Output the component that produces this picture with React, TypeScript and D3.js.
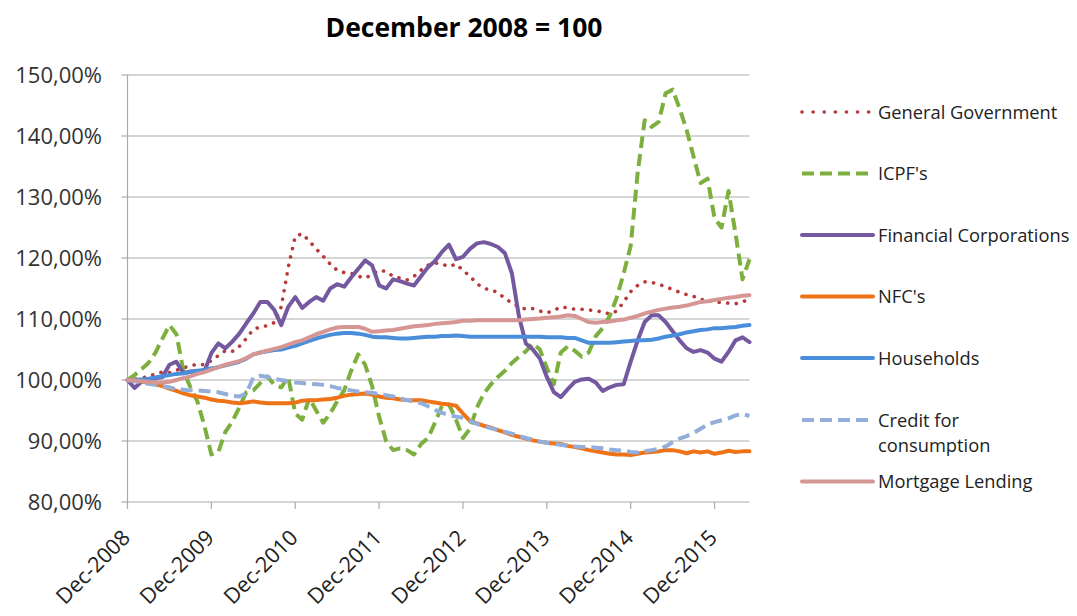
import React from "react";
import * as d3 from "d3";

// Categories: monthly, Dec-2008 .. May-2016
const months: Date[] = d3.timeMonth.range(new Date(2008, 11, 1), new Date(2016, 5, 1));
const xTickLabels = ["Dec-2008", "Dec-2009", "Dec-2010", "Dec-2011", "Dec-2012", "Dec-2013", "Dec-2014", "Dec-2015"];
const yTicks = [80, 90, 100, 110, 120, 130, 140, 150];

const generalGovernment = [
  100, 100.1, 100.3, 100.6, 101.0, 101.3, 101.2, 101.6, 102.0, 102.3, 102.6, 102.5, 103.2, 104.0, 104.8, 104.7, 105.5, 106.8, 108.3, 108.7, 108.9, 109.4, 112.0, 118.5, 123.5,
  124.0, 122.8, 121.5, 120.3, 119.0, 118.0, 117.6, 117.5, 117.0, 116.7, 117.3, 118.0, 117.8, 117.0, 116.7, 116.4, 117.0, 118.0, 118.8, 119.2, 119.0, 118.6, 119.0, 118.0,
  117.0, 115.8, 115.0, 114.8, 114.3, 113.4, 112.6, 112.0, 111.6, 111.7, 111.3, 111.0, 111.4, 112.0, 111.8, 111.6, 111.6, 111.5, 111.3, 111.2, 110.8, 111.3,
  112.8, 114.5, 115.5, 116.1, 116.0, 115.7, 115.3, 114.8, 114.4, 114.0, 113.7, 113.2, 113.1, 112.8, 112.7, 112.6, 112.5, 112.8, 113.3,
];
const icpf = [
  100, 100.8, 101.8, 102.8, 104.5, 106.8, 109.0, 107.5, 101.5, 98.8, 96.5, 92.5, 87.8, 88.2, 91.5, 93.2, 95.5, 98.0, 98.3, 99.5, 100.6, 99.2, 98.8, 100.5, 94.5,
  93.5, 97.0, 95.0, 93.0, 94.5, 96.5, 98.3, 101.5, 104.2, 102.5, 99.0, 94.0, 90.0, 88.5, 88.8, 88.5, 87.8, 89.5, 90.5, 93.0, 95.8, 96.0, 93.5, 90.5,
  92.0, 95.5, 97.8, 99.3, 100.5, 101.5, 102.8, 103.8, 104.7, 106.0, 105.0, 102.0, 99.3, 104.5, 105.5, 104.8, 103.8, 104.5, 107.2, 108.5, 110.5, 113.5,
  117.5, 122.0, 134.0, 142.6, 141.5, 142.3, 147.0, 147.6, 144.5, 141.0, 136.6, 132.3, 133.0, 126.5, 125.0, 131.0, 124.0, 116.5, 119.8,
];
const financialCorporations = [
  100, 98.7, 99.7, 100, 100.3, 100.5, 102.5, 103.0, 101.1, 101.4, 101.5, 101.4, 104.4, 106.0, 105.2, 106.3, 107.6, 109.3, 110.9, 112.8, 112.8, 111.5, 109.0, 112.0, 113.6,
  111.8, 112.8, 113.6, 113.0, 115.0, 115.7, 115.3, 116.8, 118.2, 119.6, 118.8, 115.5, 115.0, 116.5, 116.2, 115.8, 115.5, 117.0, 118.5, 119.5, 121.0, 122.2, 119.8, 120.2,
  121.5, 122.4, 122.6, 122.3, 121.8, 120.8, 117.5, 110.5, 106.0, 105.0, 103.5, 100.5, 98.0, 97.2, 98.5, 99.7, 100.1, 100.2, 99.6, 98.2, 98.8, 99.2,
  99.3, 103.0, 106.5, 109.5, 110.6, 110.6, 109.5, 108.0, 106.5, 105.2, 104.6, 104.9, 104.5, 103.5, 103.0, 104.6, 106.5, 107.0, 106.2,
];
const nfcs = [
  100, 99.9, 99.8, 99.6, 99.3, 99.0, 98.6, 98.2, 97.8, 97.5, 97.3, 97.1, 96.8, 96.6, 96.5, 96.3, 96.2, 96.3, 96.5, 96.3, 96.2, 96.2, 96.2, 96.2, 96.3,
  96.6, 96.7, 96.7, 96.8, 96.9, 97.1, 97.4, 97.6, 97.7, 97.8, 97.6, 97.3, 97.1, 97.0, 96.8, 96.7, 96.7, 96.7, 96.5, 96.3, 96.1, 96.0, 95.8, 94.5,
  93.3, 92.9, 92.5, 92.2, 91.8, 91.4, 91.0, 90.7, 90.4, 90.1, 89.9, 89.7, 89.6, 89.5, 89.2, 89.0, 88.8, 88.5, 88.3, 88.1, 87.9, 87.8,
  87.8, 87.7, 87.9, 88.1, 88.2, 88.3, 88.5, 88.5, 88.3, 88.0, 88.3, 88.1, 88.3, 87.9, 88.1, 88.4, 88.2, 88.3, 88.3,
];
const households = [
  100, 100, 100.1, 100.2, 100.4, 100.6, 100.8, 101.0, 101.1, 101.3, 101.5, 101.7, 101.9, 102.1, 102.4, 102.7, 103.0, 103.5, 104.2, 104.5, 104.7, 104.9, 105.0, 105.3, 105.6,
  106.0, 106.4, 106.8, 107.1, 107.4, 107.6, 107.7, 107.7, 107.6, 107.4, 107.1, 107.0, 107.0, 106.9, 106.8, 106.8, 106.9, 107.0, 107.1, 107.1, 107.2, 107.2, 107.3, 107.2,
  107.1, 107.1, 107.1, 107.1, 107.1, 107.1, 107.1, 107.1, 107.1, 107.1, 107.1, 107.0, 107.0, 107.0, 106.9, 106.9, 106.5, 106.1, 106.1, 106.1, 106.1, 106.2,
  106.3, 106.4, 106.5, 106.5, 106.6, 106.8, 107.1, 107.3, 107.5, 107.8, 108.0, 108.2, 108.3, 108.5, 108.5, 108.6, 108.7, 108.9, 109.0,
];
const creditForConsumption = [
  100, 99.8, 99.6, 99.4, 99.2, 99.0, 98.8, 98.5, 98.4, 98.3, 98.3, 98.2, 98.1, 98.0, 97.7, 97.4, 97.3, 97.8, 100.4, 100.7, 100.5, 100.2, 100.0, 99.8, 99.6,
  99.5, 99.4, 99.3, 99.2, 99.0, 98.7, 98.5, 98.3, 98.1, 98.0, 97.9, 97.7, 97.5, 97.3, 97.0, 96.7, 96.5, 96.2, 95.7, 95.1, 94.6, 94.3, 94.0, 93.8,
  93.3, 92.8, 92.4, 92.1, 91.8, 91.5, 91.2, 90.8, 90.5, 90.2, 89.9, 89.7, 89.5, 89.4, 89.2, 89.1, 89.0, 89.0, 88.9, 88.8, 88.6, 88.5,
  88.4, 88.2, 88.1, 88.3, 88.5, 88.7, 89.1, 89.8, 90.4, 90.8, 91.3, 92.0, 92.7, 93.1, 93.4, 93.7, 94.2, 94.4, 94.1,
];
const mortgageLending = [
  100, 99.9, 99.8, 99.7, 99.6, 99.6, 99.7, 100.0, 100.3, 100.6, 101.0, 101.3, 101.7, 102.1, 102.5, 102.8, 103.1, 103.6, 104.2, 104.5, 104.8, 105.1, 105.4, 105.8, 106.2,
  106.5, 107.0, 107.5, 107.9, 108.3, 108.6, 108.7, 108.7, 108.7, 108.4, 107.9, 108.0, 108.1, 108.2, 108.4, 108.6, 108.8, 108.9, 109.0, 109.2, 109.3, 109.4, 109.5, 109.7,
  109.7, 109.8, 109.8, 109.8, 109.8, 109.8, 109.8, 109.8, 109.9, 110.0, 110.1, 110.2, 110.3, 110.4, 110.6, 110.5, 110.0, 109.5, 109.4, 109.5, 109.6, 109.8,
  109.9, 110.2, 110.5, 110.9, 111.2, 111.5, 111.7, 111.9, 112.0, 112.2, 112.5, 112.8, 112.9, 113.1, 113.3, 113.5, 113.6, 113.8, 113.9,
];

const seriesNames = ["General Government", "ICPF's", "Financial Corporations", "NFC's", "Households", "Credit for consumption", "Mortgage Lending"];
const seriesValues = [generalGovernment, icpf, financialCorporations, nfcs, households, creditForConsumption, mortgageLending];
const seriesColors = ["#B8393A", "#7DAF3E", "#7458A0", "#EE7316", "#4A8EDB", "#93AEDA", "#D69693"];
const seriesDash = ["0.1 8.5", "12 6", null, null, null, "12 6", null];
const seriesWidth = [3.6, 4, 4, 4, 4, 4, 4];
const seriesCap = ["round", "butt", "round", "round", "round", "butt", "round"];

const W = 1077;
const H = 616;
const X0 = 127.5;
const X1 = 749.5;
const Y0 = 502;
const Y1 = 75;
const FONT = "'Open Sans', 'Noto Sans', sans-serif";

export default function App() {
  const x = d3.scaleLinear().domain([0, months.length - 1]).range([X0, X1]);
  const y = d3.scaleLinear().domain([80, 150]).range([Y0, Y1]);
  const line = d3
    .line<number>()
    .x((_, i) => x(i))
    .y((d) => y(d))
    .curve(d3.curveLinear);
  const tickIdx = months.map((m, i) => (m.getMonth() === 11 ? i : -1)).filter((i) => i >= 0);
  const fmt = (v: number) => v.toFixed(2).replace(".", ",") + "%";
  const grid = "#ABABAB";

  const legendY = [112, 173.5, 235, 296.5, 358, 420, 481.5];

  return (
    <svg width={W} height={H} style={{ position: "absolute", left: 0, top: 0, background: "#fff" }} fontFamily={FONT}>
      <text x={464} y={37} textAnchor="middle" fontSize={26.5} fontWeight="bold" fill="#000">
        December 2008 = 100
      </text>
      {yTicks.map((t) => (
        <g key={t}>
          <line x1={X0} x2={X1} y1={y(t)} y2={y(t)} stroke={grid} strokeWidth={1.2} />
          <line x1={X0 - 6} x2={X0} y1={y(t)} y2={y(t)} stroke={grid} strokeWidth={1.2} />
          <text x={102} y={y(t) + 8} textAnchor="end" fontSize={22} fill="#333">
            {fmt(t)}
          </text>
        </g>
      ))}
      <line x1={X0} x2={X0} y1={Y1} y2={Y0} stroke={grid} strokeWidth={1.2} />
      {tickIdx.map((i, k) => (
        <g key={i}>
          <line x1={x(i)} x2={x(i)} y1={Y0} y2={Y0 + 7} stroke={grid} strokeWidth={1.2} />
          <text
            transform={`translate(${x(i) + 4},${539}) rotate(-45)`}
            textAnchor="end"
            fontSize={21.5}
            fill="#222"
          >
            {xTickLabels[k]}
          </text>
        </g>
      ))}
      {seriesValues.map((vals, s) => (
        <path
          key={s}
          d={line(vals) || ""}
          fill="none"
          stroke={seriesColors[s]}
          strokeWidth={seriesWidth[s]}
          strokeDasharray={seriesDash[s] || undefined}
          strokeLinecap={seriesCap[s] as any}
          strokeLinejoin="round"
        />
      ))}
      {seriesNames.map((name, s) => (
        <g key={name}>
          <line
            x1={802}
            x2={873}
            y1={legendY[s]}
            y2={legendY[s]}
            stroke={seriesColors[s]}
            strokeWidth={seriesWidth[s]}
            strokeDasharray={s === 0 ? "0.1 11" : seriesDash[s] || undefined}
            strokeLinecap={seriesCap[s] as any}
          />
          {name === "Credit for consumption" ? (
            <text x={878} y={legendY[s] + 6.5} fontSize={18.3} fill="#222">
              <tspan x={878}>Credit for</tspan>
              <tspan x={878} dy={25}>consumption</tspan>
            </text>
          ) : (
            <text x={878} y={legendY[s] + 6.5} fontSize={18.3} fill="#222">
              {name}
            </text>
          )}
        </g>
      ))}
    </svg>
  );
}
